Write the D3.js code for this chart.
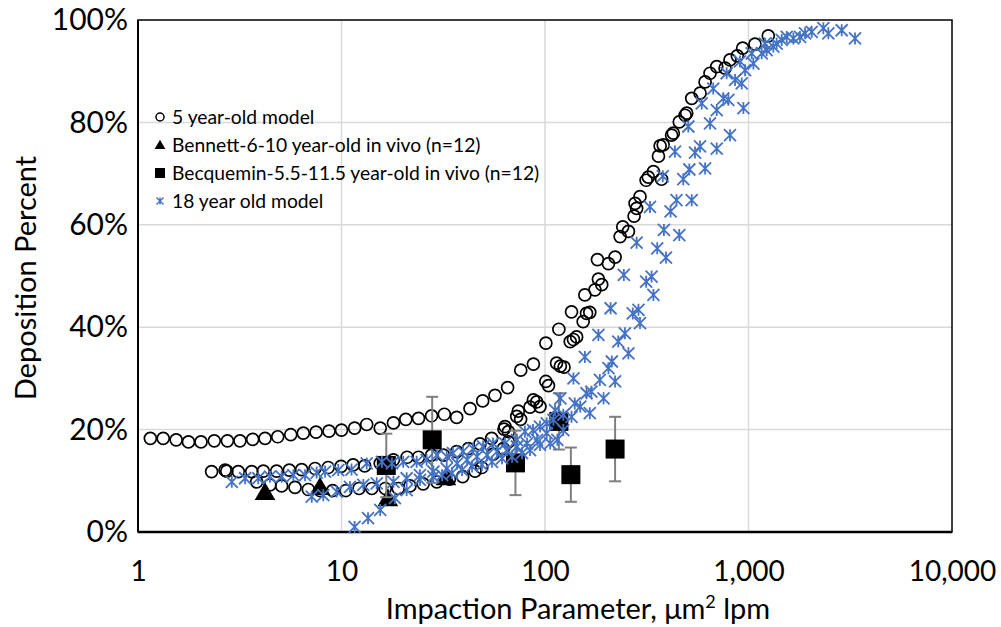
<!DOCTYPE html>
<html>
<head>
  <meta charset="UTF-8">
  <script src="https://d3js.org/d3.v7.min.js"></script>
  <title>Deposition Percent vs Impaction Parameter</title>
  <style type="text/css">
    html, body { width:100%; height:100%; margin:0; background:#fff; }
    text { font-family: Lato, "Open Sans", sans-serif; fill:#000; }
  </style>
</head>
<body>
<div class="chart"></div>
<script>
  // 5 year-old model (open circles)
  var youngX = [1.15,1.33,1.54,1.77,2.04,2.37,2.75,3.17,3.66,4.21,4.86,5.63,6.49,7.5,8.68,10,11.6,13.3,15.5,18,20.7,23.9,27.7,32,36.8,42.8,49.4,56.8,65.5,76,87.7,101,117,135,157,176,190,181,205,221,234,241,257,274,277,282,293,314,322,341,361,368,381,374,419,427,457,488,497,526,578,612,647,698,767,811,881,936,1076,1251,
    2.3,2.68,2.73,3.11,3.62,4.13,4.8,5.54,6.37,7.41,8.6,9.95,11.4,13,15.5,18,21,23.9,27.7,31.7,36.8,42,47.9,54.7,62.9,66.1,75.9,87.7,94.5,101,
    3.83,4.45,5.08,5.91,6.87,7.84,9.05,10.5,12.2,14.1,16.4,19,21.7,25.2,29.4,33.9,39.4,45.3,48.9,55.7,62.4,66.1,63.6,72.6,73.9,84.4,91,104,114,119,124,133,138,143,154,160,166,183];
  var youngY = [18.3,18.3,18,17.6,17.6,17.8,17.8,17.8,18.1,18.3,18.6,19,19.3,19.5,19.7,19.9,20.3,21,20.3,21.3,22,22.2,22.7,23,22.4,24.1,25.6,26.7,28.2,31.6,32.8,36.9,39.6,43,46.3,47.3,48.3,53.2,52.4,53.7,57.7,59.6,58.7,61.7,64.2,63.2,65.5,68.7,69.3,70.4,73.4,75.4,75.6,68.9,77.5,77.9,80.1,81.4,81.8,84.7,85.7,87.9,89.6,90.9,90.6,92.2,93,94.5,95.3,96.9,
    11.8,12.1,11.9,11.8,11.8,11.9,11.9,12.1,12.2,12.4,12.6,12.8,13.1,12.9,13.4,14.1,14.6,14.6,15,15,15.7,16.3,17.2,18.3,20.1,19.6,22,25.8,24.5,29.4,
    9.8,9.2,9,8.7,8.3,8.1,8.1,8.1,8.5,8.5,8.5,8.5,9,9.4,9.8,10.3,10.8,11.9,12.6,15.2,16.3,17.6,20.6,22.6,23.6,24.4,25.4,28.6,33,32.4,32.2,37.2,37.6,38.1,41.1,42.7,42.9,49.4];

  // Bennett 6-10 year-old in vivo (triangles)
  var bennettX = [4.21, 7.84, 16.9, 32.6];
  var bennettY = [7.4, 8.4, 6.2, 10.3];

  // Becquemin 5.5-11.5 year-old in vivo (squares with error bars)
  var becqX = [16.6, 27.9, 71.6, 117, 134, 221];
  var becqY = [13.0, 18.0, 13.5, 21.6, 11.2, 16.2];
  var becqErr = [6.2, 8.4, 6.3, 5.5, 5.3, 6.3];

  // 18 year old model (asterisks)
  var adultX = [2.89,3.36,3.9,4.45,5.08,5.8,6.62,7.55,8.3,9.64,11.2,13.3,15.8,17.7,20.1,23.4,26.2,29.4,32.9,35.3,39.5,44.3,49.6,55.5,63.6,72.8,79.7,87.3,94.5,102,112,119,138,157,183,210,244,282,328,379,435,506,589,671,781,908,1037,1161,1228,1324,1375,1456,1541,1661,1791,1896,2044,2333,2468,2871,3337,
    7.14,8.14,9.47,11,12.8,14.9,18,20.9,24.3,28.3,32.9,37,41.4,46.3,51.9,58.1,65,72.8,81.6,91.4,102,110,123,140,160,186,213,247,293,314,356,414,478,546,698,752,859,962,1057,1205,
    11.6,13.5,15.5,18.3,20.9,24.3,28.3,31.2,34.9,39.1,43.8,49,54.9,61.5,68.9,77.1,84.4,94.5,106,115,123,135,149,166,169,194,205,221,229,257,270,288,334,341,393,384,457,443,526,512,612,578,698,811,647,944,926,796];
  var adultY = [9.8,10.5,10.5,10.8,10.8,11.1,11.1,11.6,11.8,12.1,12.2,13.4,13.7,13.4,13.7,13.7,14.1,15,14.7,15.4,15.7,16.3,16.7,17.3,17.3,18,19.6,19.9,20.6,21.2,23.8,26.1,30,34.2,38.5,43.7,50.2,56.5,63.5,69.5,74.3,79.2,83.7,86.6,89.6,91.9,93.5,93.5,94.1,94.8,95.4,96.1,96.7,96.4,96.7,97.4,97.7,98.4,97.4,98,96.4,
    6.9,7.2,7.9,8.8,9.2,9.5,9.8,10.5,11.1,11.8,12.4,13.4,14.1,14.7,15,15.7,16,16.7,17.3,18,19.3,21.9,22.9,25.1,27.1,29.7,33.3,38.8,40.8,48.9,55.4,62.6,68.9,74.1,82.4,84.7,88.3,90.2,91.5,95.4,
    1,2.7,4.3,6.6,8.2,10.2,10.8,11.1,11.5,12.1,12.8,13.1,13.7,14.4,14.7,15.4,16,17,17.3,18,19.9,22.5,24.5,23.2,27.4,26.1,32,29.4,37.2,34.9,42.7,43.4,49.9,46.3,53.6,59,58,64.8,64.8,70.8,71,75.3,74.9,77.5,79.8,82.8,87.6,84.4];

  var xTicks = [1, 10, 100, 1000, 10000];
  var yTicks = [0, 20, 40, 60, 80, 100];
  var legendLabels = ["5 year-old model", "Bennett-6-10 year-old in vivo (n=12)",
                      "Becquemin-5.5-11.5 year-old in vivo (n=12)", "18 year old model"];

  var svgWidth = 1001, svgHeight = 627;
  var margin = {top: 20, right: 49, bottom: 95, left: 138};
  var width = svgWidth - margin.left - margin.right,
      height = svgHeight - margin.top - margin.bottom;
  var blue = "#4472C4";

  var svg = d3.select(".chart").append("svg")
    .attr("width", svgWidth).attr("height", svgHeight);
  var g = svg.append("g")
    .attr("transform", "translate(" + margin.left + "," + margin.top + ")");

  var xScale = d3.scaleLog().domain([1, 10000]).range([0, width]);
  var yScale = d3.scaleLinear().domain([0, 100]).range([height, 0]);

  // gridlines
  g.selectAll(".vgrid").data(xTicks.slice(1, -1)).enter().append("line")
    .attr("x1", d => xScale(d)).attr("x2", d => xScale(d))
    .attr("y1", 0).attr("y2", height)
    .attr("stroke", "#d9d9d9").attr("stroke-width", 1.5);
  g.selectAll(".hgrid").data(yTicks.slice(1, -1)).enter().append("line")
    .attr("x1", 0).attr("x2", width)
    .attr("y1", d => yScale(d)).attr("y2", d => yScale(d))
    .attr("stroke", "#d9d9d9").attr("stroke-width", 1.5);

  // axes (labels only)
  var xAxis = g.append("g")
    .attr("transform", "translate(0," + height + ")")
    .call(d3.axisBottom(xScale).tickValues(xTicks).tickFormat(d3.format(",")).tickSize(0).tickPadding(29));
  xAxis.select(".domain").remove();
  xAxis.selectAll("text").style("font-size", "28px").style("font-family", "Lato, sans-serif");

  var yAxis = g.append("g")
    .call(d3.axisLeft(yScale).tickValues(yTicks).tickFormat(d => d + "%").tickSize(0).tickPadding(10));
  yAxis.select(".domain").remove();
  yAxis.selectAll("text").style("font-size", "30px").style("font-family", "Lato, sans-serif");

  // frame
  g.append("rect").attr("x", 0).attr("y", 0).attr("width", width).attr("height", height)
    .attr("fill", "none").attr("stroke", "#000").attr("stroke-width", 1.5);
  g.append("line").attr("x1", 0).attr("x2", width).attr("y1", height).attr("y2", height)
    .attr("stroke", "#000").attr("stroke-width", 2.5);
  g.append("line").attr("x1", 0).attr("x2", 0).attr("y1", 0).attr("y2", height)
    .attr("stroke", "#000").attr("stroke-width", 2);

  // 5 year-old model
  var young = youngX.map((x, i) => ({x: x, y: youngY[i]}));
  g.selectAll(".young").data(young).enter().append("circle")
    .attr("cx", d => xScale(d.x)).attr("cy", d => yScale(d.y)).attr("r", 6)
    .attr("fill", "none").attr("stroke", "#000").attr("stroke-width", 1.7);

  // Bennett triangles
  var tri = d3.symbol().type(d3.symbolTriangle).size(185);
  var bennett = bennettX.map((x, i) => ({x: x, y: bennettY[i]}));
  g.selectAll(".bennett").data(bennett).enter().append("path")
    .attr("d", tri)
    .attr("transform", d => "translate(" + xScale(d.x) + "," + yScale(d.y) + ")")
    .attr("fill", "#000");

  // Becquemin error bars + squares
  var becq = becqX.map((x, i) => ({x: x, y: becqY[i], e: becqErr[i]}));
  var eb = g.selectAll(".err").data(becq).enter().append("g").attr("stroke", "#7f7f7f").attr("stroke-width", 2);
  eb.append("line").attr("x1", d => xScale(d.x)).attr("x2", d => xScale(d.x))
    .attr("y1", d => yScale(d.y + d.e)).attr("y2", d => yScale(d.y - d.e));
  eb.append("line").attr("x1", d => xScale(d.x) - 6).attr("x2", d => xScale(d.x) + 6)
    .attr("y1", d => yScale(d.y + d.e)).attr("y2", d => yScale(d.y + d.e));
  eb.append("line").attr("x1", d => xScale(d.x) - 6).attr("x2", d => xScale(d.x) + 6)
    .attr("y1", d => yScale(d.y - d.e)).attr("y2", d => yScale(d.y - d.e));
  g.selectAll(".becq").data(becq).enter().append("rect")
    .attr("x", d => xScale(d.x) - 9.5).attr("y", d => yScale(d.y) - 9.5)
    .attr("width", 19).attr("height", 19).attr("fill", "#000");

  // 18 year old model asterisks
  function star(s) {
    return "M0," + (-s) + "L0," + s +
      "M" + (-s) + "," + (-s) + "L" + s + "," + s +
      "M" + (-s) + "," + s + "L" + s + "," + (-s);
  }
  var adult = adultX.map((x, i) => ({x: x, y: adultY[i]}));
  g.selectAll(".adult").data(adult).enter().append("path")
    .attr("d", star(6))
    .attr("transform", d => "translate(" + xScale(d.x) + "," + yScale(d.y) + ")")
    .attr("fill", "none").attr("stroke", blue).attr("stroke-width", 1.8);

  // legend
  var legend = svg.append("g").attr("transform", "translate(160,117)");
  var rows = legend.selectAll(".row").data(legendLabels).enter().append("g")
    .attr("transform", (d, i) => "translate(0," + (i * 28) + ")");
  rows.append("text").attr("x", 12).attr("dy", "0.35em")
    .style("font-size", "19.3px").text(d => d);
  legend.append("circle").attr("cx", 0).attr("cy", 0).attr("r", 4)
    .attr("fill", "none").attr("stroke", "#000").attr("stroke-width", 1.5);
  legend.append("path").attr("d", d3.symbol().type(d3.symbolTriangle).size(50))
    .attr("transform", "translate(0,29)").attr("fill", "#000");
  legend.append("rect").attr("x", -5).attr("y", 56 - 5).attr("width", 10).attr("height", 10).attr("fill", "#000");
  legend.append("path").attr("d", star(3.5)).attr("transform", "translate(0,84)")
    .attr("fill", "none").attr("stroke", blue).attr("stroke-width", 1.4);

  // axis titles
  svg.append("text")
    .attr("x", 578).attr("y", 619)
    .attr("text-anchor", "middle").style("font-size", "29px")
    .text("Impaction Parameter, μm")
    .append("tspan").attr("dy", -11).style("font-size", "18px").text("2")
    .select(function() { return this.parentNode; })
    .append("tspan").attr("dy", 11).style("font-size", "29px").text(" lpm");

  svg.append("text")
    .attr("transform", "translate(36," + (margin.top + height / 2 + 2) + ") rotate(-90)")
    .attr("text-anchor", "middle").style("font-size", "29px")
    .text("Deposition Percent");
</script>
</body>
</html>
